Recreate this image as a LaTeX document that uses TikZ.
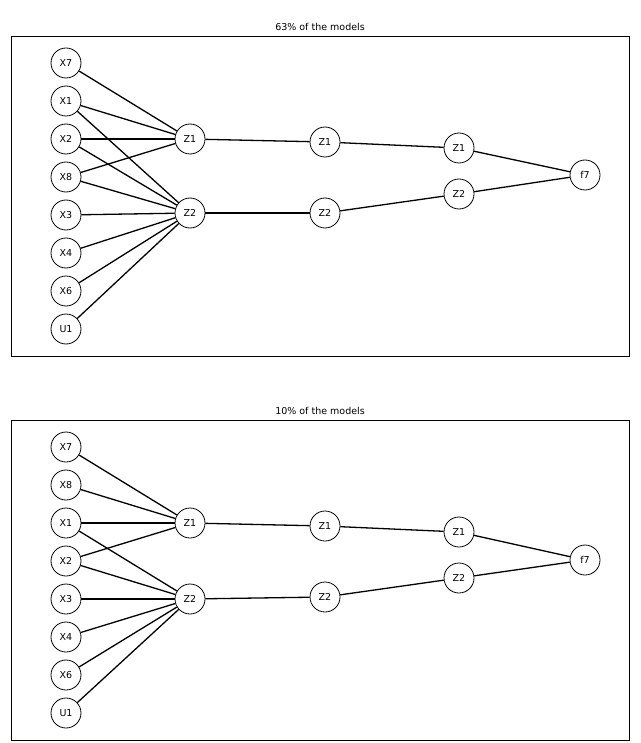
\documentclass[tikz,border=0pt]{standalone}
\usepackage{fontspec}
\setmainfont{DejaVu Sans}
\begin{document}
\begin{tikzpicture}[x=1pt,y=-1pt,
  nd/.style={circle,draw,line width=0.8pt,minimum size=30pt,inner sep=0pt,font=\fontsize{9.5}{11}\selectfont,fill=white},
  ed/.style={line width=1.3pt},
  fr/.style={draw,line width=0.6pt},
  ttl/.style={font=\fontsize{9.5}{11}\selectfont}]
\useasboundingbox (0,0) rectangle (640,743);
% top panel
\draw[fr] (11,36) rectangle (629,356);
\node[ttl] (t1) at (320,27) {63\% of the models};
\foreach \n/\y/\l in {a7/63/X7,a1/101/X1,a2/139/X2,a8/177/X8,a3/215/X3,a4/253/X4,a6/291/X6,au/329/U1}
  \node[nd] (\n) at (66,\y) {\l};
\node[nd] (az1) at (190,139) {Z1};
\node[nd] (az2) at (190,213) {Z2};
\node[nd] (bz1) at (325,142) {Z1};
\node[nd] (bz2) at (325,213) {Z2};
\node[nd] (cz1) at (459,148) {Z1};
\node[nd] (cz2) at (459,194) {Z2};
\node[nd] (af) at (585,175) {f7};
\foreach \s/\t in {a7/az1,a1/az1,a1/az2,a2/az1,a2/az2,a8/az1,a8/az2,a3/az2,a4/az2,a6/az2,au/az2,az1/bz1,az2/bz2,bz1/cz1,bz2/cz2,cz1/af,cz2/af}
  \draw[ed] (\s) -- (\t);
% bottom panel
\draw[fr] (11,420) rectangle (629,740);
\node[ttl] (t2) at (320,411) {10\% of the models};
\foreach \n/\y/\l in {d7/447/X7,d8/485/X8,d1/523/X1,d2/561/X2,d3/599/X3,d4/637/X4,d6/675/X6,du/713/U1}
  \node[nd] (\n) at (66,\y) {\l};
\node[nd] (dz1) at (190,523) {Z1};
\node[nd] (dz2) at (190,599) {Z2};
\node[nd] (ez1) at (325,526) {Z1};
\node[nd] (ez2) at (325,597) {Z2};
\node[nd] (gz1) at (459,532) {Z1};
\node[nd] (gz2) at (459,578) {Z2};
\node[nd] (df) at (585,560) {f7};
\foreach \s/\t in {d7/dz1,d8/dz1,d1/dz1,d1/dz2,d2/dz1,d2/dz2,d3/dz2,d4/dz2,d6/dz2,du/dz2,dz1/ez1,dz2/ez2,ez1/gz1,ez2/gz2,gz1/df,gz2/df}
  \draw[ed] (\s) -- (\t);
\end{tikzpicture}
\end{document}
